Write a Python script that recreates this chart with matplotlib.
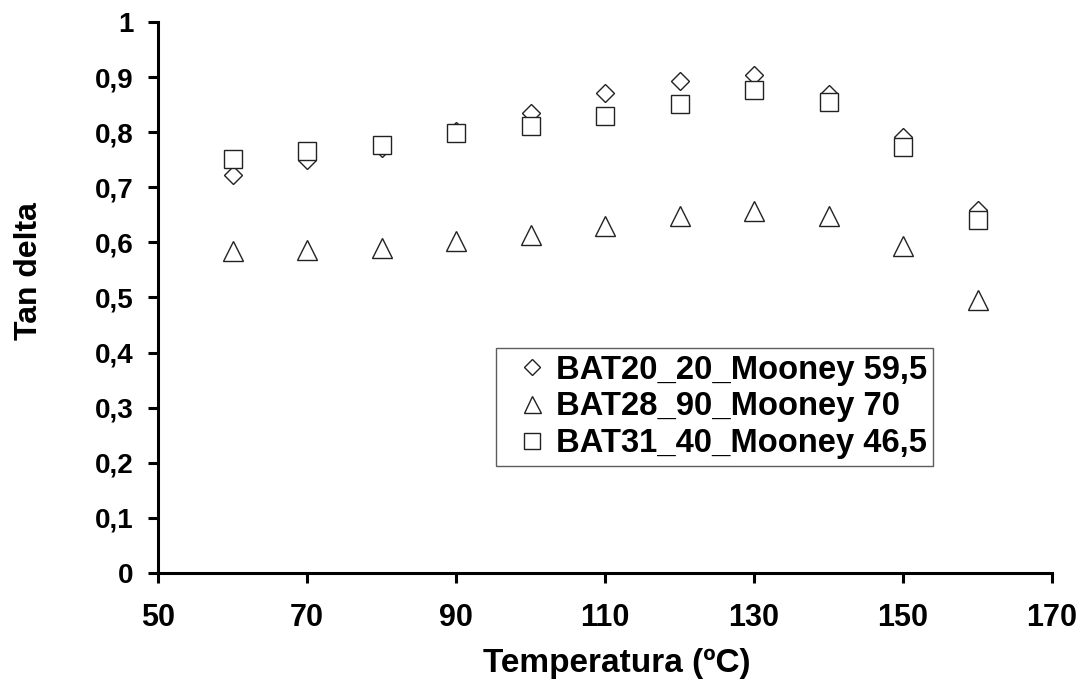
import matplotlib
matplotlib.use("Agg")
import matplotlib.pyplot as plt

# Tan delta vs temperature, three rubber batches
temperatures = [60, 70, 80, 90, 100, 110, 120, 130, 140, 150, 160]
bat20 = [0.722, 0.750, 0.771, 0.803, 0.834, 0.871, 0.893, 0.904, 0.870, 0.791, 0.659]
bat28 = [0.585, 0.587, 0.589, 0.603, 0.614, 0.629, 0.647, 0.657, 0.647, 0.594, 0.495]
bat31 = [0.751, 0.766, 0.777, 0.799, 0.812, 0.829, 0.852, 0.876, 0.854, 0.773, 0.641]

labels = ["BAT20_20_Mooney 59,5", "BAT28_90_Mooney 70", "BAT31_40_Mooney 46,5"]
x_ticks = [50, 70, 90, 110, 130, 150, 170]
y_ticks = [0, 0.1, 0.2, 0.3, 0.4, 0.5, 0.6, 0.7, 0.8, 0.9, 1]

plt.rcParams["font.family"] = ["Liberation Sans", "DejaVu Sans"]
plt.rcParams["font.weight"] = "bold"

fig = plt.figure(figsize=(10.87, 6.89), dpi=100)
ax = fig.add_axes([0.1454, 0.1684, 0.8224, 0.7997])

edge = "#222222"
ax.plot(temperatures, bat20, linestyle="none", marker="D", markersize=9.6,
        markerfacecolor="white", markeredgecolor=edge, markeredgewidth=1.0,
        label=labels[0])
ax.plot(temperatures, bat28, linestyle="none", marker="^", markersize=14.4,
        markerfacecolor="white", markeredgecolor=edge, markeredgewidth=1.0,
        label=labels[1])
ax.plot(temperatures, bat31, linestyle="none", marker="s", markersize=13.4,
        markerfacecolor="white", markeredgecolor=edge, markeredgewidth=1.0,
        label=labels[2])

ax.set_xlim(50, 170)
ax.set_ylim(0, 1)
ax.set_xticks(x_ticks)
ax.set_yticks(y_ticks)
ax.set_xticklabels([str(t) for t in x_ticks], fontsize=22, fontweight="bold")
ax.set_yticklabels([("%g" % t).replace(".", ",") for t in y_ticks],
                   fontsize=20, fontweight="bold")

for side in ("top", "right"):
    ax.spines[side].set_visible(False)
for side in ("left", "bottom"):
    ax.spines[side].set_linewidth(2.2)
ax.tick_params(axis="both", direction="out", length=7.5, width=2.2)
ax.tick_params(axis="x", pad=14)
ax.tick_params(axis="y", pad=10)

ax.set_xlabel("Temperatura (ºC)", fontsize=24, fontweight="bold")
ax.xaxis.set_label_coords(0.513, -0.136)
ax.set_ylabel("Tan delta", fontsize=23, fontweight="bold")
ax.yaxis.set_label_coords(-0.1275, 0.548)

leg = ax.legend(loc="upper left", bbox_to_anchor=(496 / 1087, 1 - 348 / 689),
                bbox_transform=fig.transFigure, frameon=True, fancybox=False,
                prop={"size": 23.6, "weight": "bold"}, handlelength=1.8,
                handletextpad=-0.18, labelspacing=0.18, borderpad=0.2,
                borderaxespad=0, markerscale=0.85)
leg.get_frame().set_edgecolor("#333333")
leg.get_frame().set_linewidth(1.0)

fig.savefig("out.png", dpi=100)
